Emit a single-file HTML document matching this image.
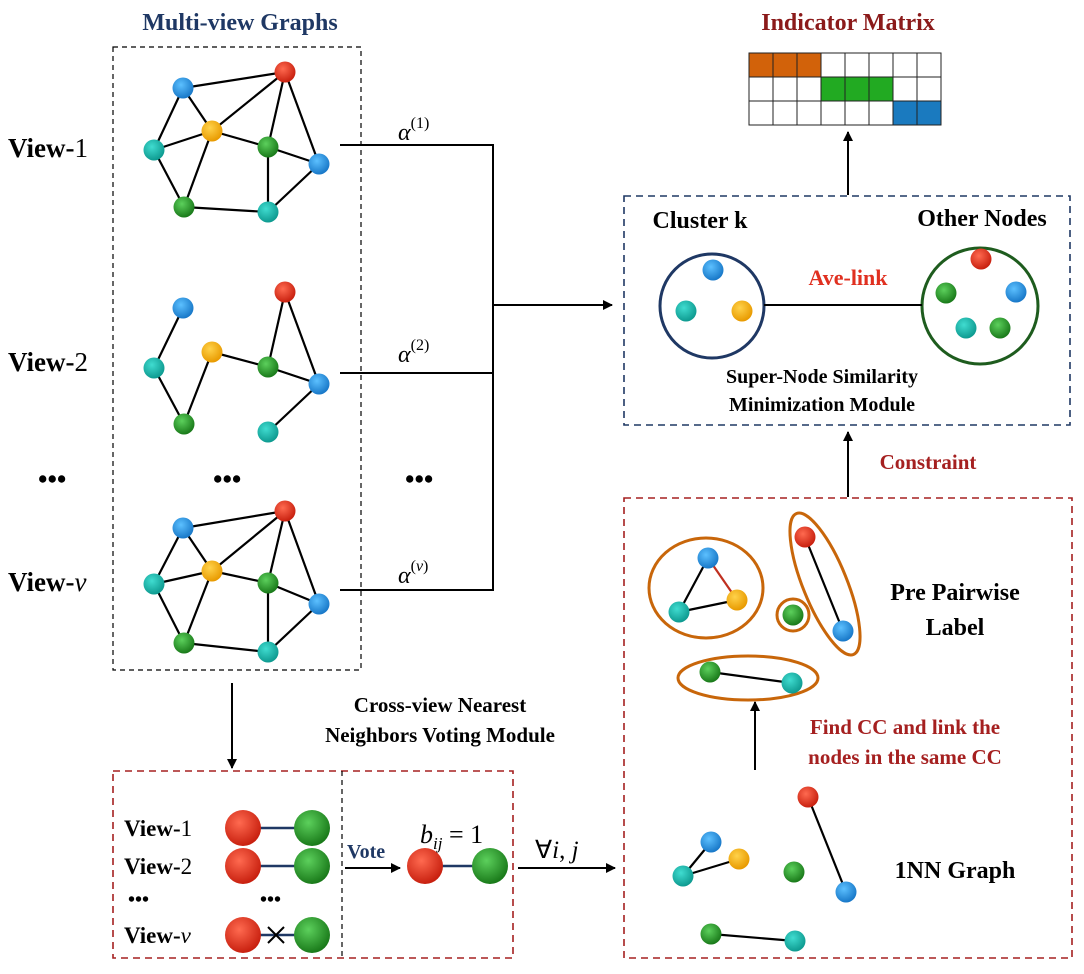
<!DOCTYPE html>
<html><head><meta charset="utf-8"><style>
html,body{margin:0;padding:0;background:#fff}
svg{display:block}
text{font-family:"Liberation Serif",serif;font-weight:bold}
.m{font-weight:normal}
</style></head><body>
<svg id="fig" width="1084" height="974" viewBox="0 0 1084 974" xmlns="http://www.w3.org/2000/svg">
<defs>
<radialGradient id="gblue" cx="40%" cy="35%" r="65%"><stop offset="0" stop-color="#5cc0ff"/><stop offset="1" stop-color="#1878c8"/></radialGradient>
<radialGradient id="gred" cx="40%" cy="35%" r="65%"><stop offset="0" stop-color="#ff6a50"/><stop offset="1" stop-color="#c8200f"/></radialGradient>
<radialGradient id="gyellow" cx="40%" cy="35%" r="65%"><stop offset="0" stop-color="#ffd24a"/><stop offset="1" stop-color="#e89a00"/></radialGradient>
<radialGradient id="gteal" cx="40%" cy="35%" r="65%"><stop offset="0" stop-color="#40dcd0"/><stop offset="1" stop-color="#0e9a90"/></radialGradient>
<radialGradient id="ggreen" cx="40%" cy="35%" r="65%"><stop offset="0" stop-color="#5cd05c"/><stop offset="1" stop-color="#1a7a1a"/></radialGradient>
<marker id="arr" markerWidth="10" markerHeight="10" refX="9" refY="5" orient="auto" markerUnits="userSpaceOnUse"><path d="M0,0 L10,5 L0,10 z" fill="#000"/></marker>
</defs>

<text x="240" y="30" font-size="24" fill="#1f3864" text-anchor="middle">Multi-view Graphs</text>
<text x="848" y="30" font-size="24" fill="#8b1a1a" text-anchor="middle">Indicator Matrix</text>

<rect x="113" y="47" width="248" height="623" fill="none" stroke="#000" stroke-dasharray="5,4" stroke-width="1.2"/>

<g font-size="27" fill="#000">
<text x="8" y="157">View-<tspan style="font-weight:normal">1</tspan></text>
<text x="8" y="371">View-<tspan style="font-weight:normal">2</tspan></text>
<text x="8" y="591">View-<tspan style="font-weight:normal;font-style:italic">v</tspan></text>
<text x="38" y="488">•••</text>
<text x="213" y="488">•••</text>
<text x="405" y="488">•••</text>
</g>

<g id="graphs" stroke="#000" stroke-width="2.2"></g>
<g id="nodes"></g>

<g stroke="#000" stroke-width="2" fill="none">
<path d="M340,145 H493 V590 H340"/>
<path d="M340,373 H493"/>
<path d="M493,305 H612" marker-end="url(#arr)"/>
</g>
<g font-size="24" fill="#000">
<text x="398" y="140" style="font-weight:normal;font-style:italic">α<tspan font-size="16" dy="-12" style="font-style:normal">(1)</tspan></text>
<text x="398" y="362" style="font-weight:normal;font-style:italic">α<tspan font-size="16" dy="-12" style="font-style:normal">(2)</tspan></text>
<text x="398" y="583" style="font-weight:normal;font-style:italic">α<tspan font-size="16" dy="-12" style="font-style:normal">(<tspan style="font-style:italic">v</tspan>)</tspan></text>
</g>

<g id="matrix"></g>
<path d="M848,195 V132" stroke="#000" stroke-width="2" marker-end="url(#arr)"/>

<rect x="624" y="196" width="446" height="229" fill="none" stroke="#1f3864" stroke-dasharray="7,5" stroke-width="1.6"/>
<text x="700" y="228" font-size="24" text-anchor="middle">Cluster k</text>
<text x="982" y="226" font-size="24" text-anchor="middle">Other Nodes</text>
<circle cx="712" cy="306" r="52" fill="none" stroke="#1f3864" stroke-width="3"/>
<circle cx="980" cy="306" r="58" fill="none" stroke="#1e5c1e" stroke-width="3"/>
<path d="M764,305 H922" stroke="#000" stroke-width="2"/>
<text x="848" y="285" font-size="22" fill="#e03020" text-anchor="middle">Ave-link</text>
<text x="822" y="383" font-size="20" text-anchor="middle">Super-Node Similarity</text>
<text x="822" y="411" font-size="20" text-anchor="middle">Minimization Module</text>

<path d="M848,497 V432" stroke="#000" stroke-width="2" marker-end="url(#arr)"/>
<text x="928" y="469" font-size="21" fill="#a52020" text-anchor="middle">Constraint</text>

<rect x="624" y="498" width="448" height="460" fill="none" stroke="#a52020" stroke-dasharray="7,5" stroke-width="1.6"/>
<g fill="none" stroke="#c8660a" stroke-width="3">
<ellipse cx="706" cy="588" rx="57" ry="50"/>
<ellipse cx="825" cy="584" rx="22" ry="76" transform="rotate(-22 825 584)"/>
<circle cx="793" cy="615" r="16"/>
<ellipse cx="748" cy="678" rx="70" ry="22"/>
</g>
<text x="955" y="600" font-size="24" text-anchor="middle">Pre Pairwise</text>
<text x="955" y="635" font-size="24" text-anchor="middle">Label</text>
<path d="M755,770 V702" stroke="#000" stroke-width="2" marker-end="url(#arr)"/>
<text x="905" y="734" font-size="21" fill="#a52020" text-anchor="middle">Find CC and link the</text>
<text x="905" y="764" font-size="21" fill="#a52020" text-anchor="middle">nodes in the same CC</text>
<text x="955" y="878" font-size="24" text-anchor="middle">1NN Graph</text>

<path d="M232,683 V768" stroke="#000" stroke-width="2" marker-end="url(#arr)"/>
<text x="440" y="712" font-size="21" text-anchor="middle">Cross-view Nearest</text>
<text x="440" y="742" font-size="21" text-anchor="middle">Neighbors Voting Module</text>
<rect x="113" y="771" width="400" height="187" fill="none" stroke="#a52020" stroke-dasharray="7,5" stroke-width="1.6"/>
<path d="M342,771 V958" stroke="#000" stroke-dasharray="5,4" stroke-width="1.2"/>
<g font-size="23">
<text x="124" y="836">View-<tspan style="font-weight:normal">1</tspan></text>
<text x="124" y="874">View-<tspan style="font-weight:normal">2</tspan></text>
<text x="124" y="943">View-<tspan style="font-weight:normal;font-style:italic">v</tspan></text>
<text x="128" y="906" font-size="20">•••</text>
<text x="260" y="906" font-size="20">•••</text>
</g>
<g stroke="#1f3864" stroke-width="2.5">
<path d="M258,828 H298"/><path d="M258,866 H298"/><path d="M258,935 H298"/><path d="M440,866 H476"/>
</g>
<path d="M268,927 L284,943 M284,927 L268,943" stroke="#000" stroke-width="2"/>
<text x="347" y="858" font-size="20" fill="#1f3864">Vote</text>
<path d="M345,868 H400" stroke="#000" stroke-width="2" marker-end="url(#arr)"/>
<text x="420" y="843" font-size="26" style="font-weight:normal;font-style:italic">b<tspan font-size="17" dy="6">ij</tspan><tspan dy="-6" style="font-style:normal"> = 1</tspan></text>
<text x="535" y="858" font-size="25" style="font-weight:normal">∀<tspan style="font-style:italic">i</tspan>, <tspan style="font-style:italic">j</tspan></text>
<path d="M518,868 H615" stroke="#000" stroke-width="2" marker-end="url(#arr)"/>

<g id="extra-edges" stroke-width="2.2"></g>
<g id="extra-nodes"></g>

<script>
const NS='http://www.w3.org/2000/svg';
const fills={b:'url(#gblue)',r:'url(#gred)',y:'url(#gyellow)',t:'url(#gteal)',g:'url(#ggreen)'};
function node(parent,x,y,c,r){const e=document.createElementNS(NS,'circle');e.setAttribute('cx',x);e.setAttribute('cy',y);e.setAttribute('r',r||10.5);e.setAttribute('fill',fills[c]);


parent.appendChild(e);}
function edge(parent,a,b,col){const e=document.createElementNS(NS,'line');e.setAttribute('x1',a[0]);e.setAttribute('y1',a[1]);e.setAttribute('x2',b[0]);e.setAttribute('y2',b[1]);e.setAttribute('stroke',col||'#000');


parent.appendChild(e);}
const G=document.getElementById('graphs'),N=document.getElementById('nodes');
const g1={B1:[183,88,'b'],R:[285,72,'r'],Y:[212,131,'y'],T1:[154,150,'t'],G1:[268,147,'g'],B2:[319,164,'b'],G2:[184,207,'g'],T2:[268,212,'t']};
const e1=[['B1','Y'],['B1','R'],['Y','R'],['Y','T1'],['T1','G2'],['Y','G2'],['Y','G1'],['G1','R'],['R','B2'],['G1','B2'],['G1','T2'],['B2','T2'],['G2','T2'],['B1','T1']];
const g2={B1:[183,308,'b'],R:[285,292,'r'],Y:[212,352,'y'],T1:[154,368,'t'],G1:[268,367,'g'],B2:[319,384,'b'],G2:[184,424,'g'],T2:[268,432,'t']};
const e2=[['B1','T1'],['T1','G2'],['Y','G2'],['Y','G1'],['G1','R'],['R','B2'],['G1','B2'],['B2','T2']];
const g3={B1:[183,528,'b'],R:[285,511,'r'],Y:[212,571,'y'],T1:[154,584,'t'],G1:[268,583,'g'],B2:[319,604,'b'],G2:[184,643,'g'],T2:[268,652,'t']};
[[g1,e1],[g2,e2],[g3,e1]].forEach(([g,es])=>{es.forEach(([a,b])=>edge(G,g[a],g[b]));Object.values(g).forEach(p=>node(N,p[0],p[1],p[2]));});
const M=document.getElementById('matrix');
const rowsFill=[[0,1,2,'#d2620a'],[3,4,5,'#22aa22'],[6,7,null,'#1a7abf']];
for(let r=0;r<3;r++)for(let c=0;c<8;c++){const e=document.createElementNS(NS,'rect');e.setAttribute('x',749+c*24);e.setAttribute('y',53+r*24);e.setAttribute('width',24);e.setAttribute('height',24);
const f=rowsFill[r];e.setAttribute('fill',(f.slice(0,3).includes(c))?f[3]:'#fff');e.setAttribute('stroke','#222');e.setAttribute('stroke-width','1');


M.appendChild(e);}
const XE=document.getElementById('extra-edges'),XN=document.getElementById('extra-nodes');
edge(XE,[708,558],[679,612]);edge(XE,[708,558],[737,600],'#c03020');edge(XE,[679,612],[737,600]);
edge(XE,[805,537],[843,631]);edge(XE,[710,672],[792,683]);
edge(XE,[711,842],[683,876]);edge(XE,[683,876],[739,859]);edge(XE,[808,797],[846,892]);edge(XE,[711,934],[795,941]);
[[713,270,'b'],[686,311,'t'],[742,311,'y'],[981,259,'r'],[946,293,'g'],[1016,292,'b'],[966,328,'t'],[1000,328,'g'],
[708,558,'b'],[679,612,'t'],[737,600,'y'],[805,537,'r'],[843,631,'b'],[793,615,'g'],[710,672,'g'],[792,683,'t'],
[711,842,'b'],[739,859,'y'],[683,876,'t'],[808,797,'r'],[846,892,'b'],[794,872,'g'],[711,934,'g'],[795,941,'t']].forEach(p=>node(XN,p[0],p[1],p[2]));
[[243,828,'r'],[312,828,'g'],[243,866,'r'],[312,866,'g'],[243,935,'r'],[312,935,'g'],[425,866,'r'],[490,866,'g']].forEach(p=>node(XN,p[0],p[1],p[2],18));
</script>
</svg>
</body></html>
